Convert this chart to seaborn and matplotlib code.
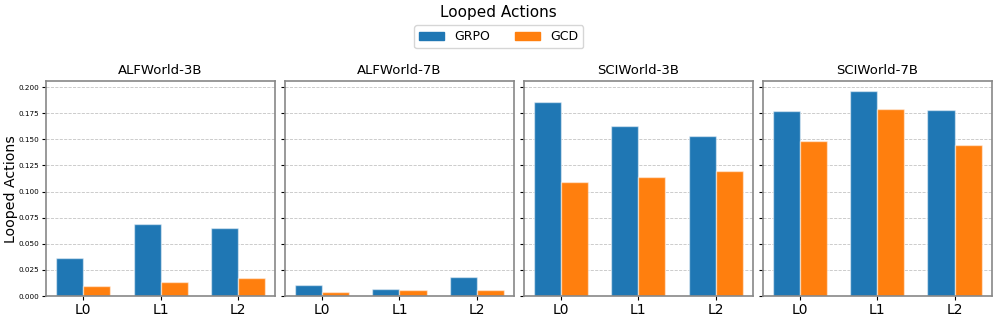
import pandas as pd
import matplotlib.pyplot as plt
import seaborn as sns

levels = ["L0", "L1", "L2"]
methods = ["GRPO", "GCD"]
envs = ["ALFWorld-3B", "ALFWorld-7B", "SCIWorld-3B", "SCIWorld-7B"]

grpo = {
    "ALFWorld-3B": [0.036, 0.069, 0.065],
    "ALFWorld-7B": [0.011, 0.007, 0.018],
    "SCIWorld-3B": [0.186, 0.163, 0.153],
    "SCIWorld-7B": [0.177, 0.196, 0.178],
}
gcd = {
    "ALFWorld-3B": [0.010, 0.013, 0.017],
    "ALFWorld-7B": [0.004, 0.006, 0.006],
    "SCIWorld-3B": [0.109, 0.114, 0.120],
    "SCIWorld-7B": [0.148, 0.179, 0.145],
}

rows = []
for env in envs:
    for i, lv in enumerate(levels):
        rows.append({"env": env, "level": lv, "method": "GRPO", "value": grpo[env][i]})
        rows.append({"env": env, "level": lv, "method": "GCD", "value": gcd[env][i]})
df = pd.DataFrame(rows)

sns.set_style("ticks")
plt.rcParams.update({"text.color": "black", "axes.labelcolor": "black",
                     "xtick.color": "black", "ytick.color": "black"})
palette = {"GRPO": "#1f77b4", "GCD": "#ff7f0e"}

fig, axes = plt.subplots(1, 4, figsize=(9.97, 3.18), dpi=100, sharey=True)
for ax, env in zip(axes, envs):
    sub = df[df["env"] == env]
    sns.barplot(data=sub, x="level", y="value", hue="method", hue_order=methods,
                order=levels, palette=palette, width=0.7, gap=0, ax=ax,
                edgecolor=(1, 1, 1, 0.5), linewidth=1, legend=False, saturation=1)
    ax.set_title(env, fontsize=9.5, pad=5)
    ax.set_xlabel("")
    ax.set_ylabel("")
    ax.yaxis.grid(True, linestyle="--", color="#c4c4c4", linewidth=0.6)
    ax.set_axisbelow(True)
    ax.tick_params(axis="x", labelsize=10, length=3, pad=2)
    ax.tick_params(axis="y", labelsize=5.2, length=3, pad=2)
    for s in ax.spines.values():
        s.set_visible(True)
        s.set_color("#888888")
        s.set_linewidth(1.2)
    ax.set_xlim(-0.485, 2.485)

axes[0].set_ylabel("Looped Actions", fontsize=10.2)
axes[0].yaxis.set_label_coords(-0.12, 0.5)
axes[0].set_ylim(0, 0.2058)

handles = [plt.Rectangle((0, 0), 1, 1, color=palette[m]) for m in methods]
fig.legend(handles, methods, loc="upper center", ncol=2, bbox_to_anchor=(0.5, 0.94),
           fontsize=9, frameon=True, handlelength=2.0, columnspacing=2.0)
fig.suptitle("Looped Actions", fontsize=11, y=0.985)
fig.subplots_adjust(left=0.046, right=0.995, top=0.745, bottom=0.069, wspace=0.041)
fig.savefig("out.png", dpi=100)
